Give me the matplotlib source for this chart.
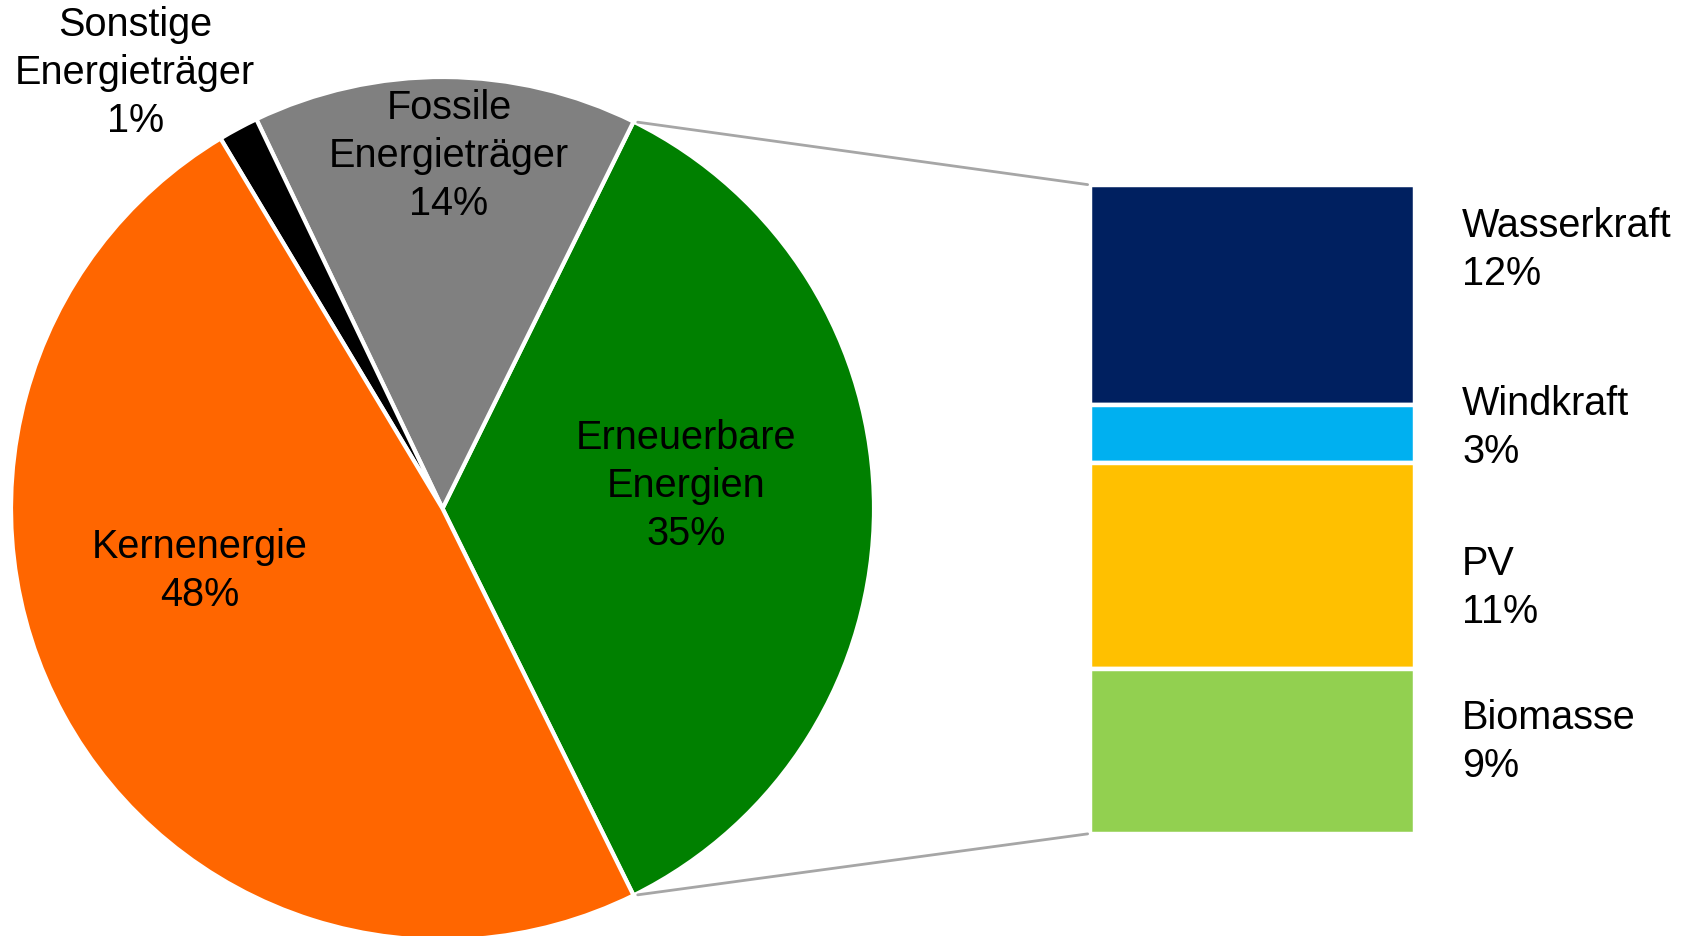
import numpy as np
import matplotlib
matplotlib.use("Agg")
import matplotlib.pyplot as plt
from matplotlib.patches import ConnectionPatch

plt.rcParams['font.family'] = ['Liberation Sans', 'DejaVu Sans']

# ---- data ----
pie_labels = ["Erneuerbare\nEnergien\n35%", "Fossile\nEnergieträger\n14%",
              "Sonstige\nEnergieträger\n1%", "Kernenergie\n48%"]
pie_values = [35.4, 14.4, 1.5, 48.7]
pie_colors = ["#008000", "#808080", "#000000", "#FF6600"]

bar_labels = ["Wasserkraft\n12%", "Windkraft\n3%", "PV\n11%", "Biomasse\n9%"]
bar_values = [12.0, 3.2, 11.2, 9.0]
bar_colors = ["#002060", "#00B0F0", "#FFC000", "#92D050"]

W, H = 1699, 937
fig = plt.figure(figsize=(W / 100, H / 100), dpi=100)

def fx(px):
    return px / W

def fy(py):
    return 1 - py / H

# ---- pie ----
cx, cy, R = 442.5, 509.5, 431.5
ax_pie = fig.add_axes([fx(cx - R), fy(cy + R), 2 * R / W, 2 * R / H])
start = -pie_values[0] * 3.6 / 2
wedges, _ = ax_pie.pie(pie_values, colors=pie_colors, startangle=start,
                       counterclock=True, radius=1,
                       wedgeprops=dict(edgecolor="white", linewidth=3))
ax_pie.set_xlim(-1, 1)
ax_pie.set_ylim(-1, 1)
ax_pie.set_aspect("equal")
ax_pie.axis("off")
for w in wedges:
    w.set_clip_on(False)

FS = 28.5
LS = 1.33
# positions: (center x, baseline of last line) in image pixels
pie_text_pos = [(686, 545), (449, 215), (135.3, 131.7), (200, 606)]
for lab, (x, y) in zip(pie_labels, pie_text_pos):
    fig.text(fx(x), fy(y), lab, ha="center", va="baseline", fontsize=FS,
             linespacing=LS, multialignment="center", color="black")

# ---- stacked bar ----
bl, br, bt, bb = 1090.4, 1415.0, 186.0, 834.5
ax_bar = fig.add_axes([fx(bl), fy(bb), (br - bl) / W, (bb - bt) / H])
total = sum(bar_values)
bottom = total
for val, col in zip(bar_values, bar_colors):
    bottom -= val
    ax_bar.bar(0, val, bottom=bottom, width=1, color=col,
               edgecolor="white", linewidth=3.2)
ax_bar.set_xlim(-0.5, 0.5)
ax_bar.set_ylim(0, total)
ax_bar.axis("off")

bar_text_pos = [(1462, 285), (1462, 463), (1462, 623), (1462, 777)]
for lab, (x, y) in zip(bar_labels, bar_text_pos):
    fig.text(fx(x), fy(y), lab, ha="left", va="baseline", fontsize=FS,
             linespacing=LS, color="black")

# ---- connector lines ----
theta1 = np.deg2rad(start + pie_values[0] * 3.6)
theta2 = np.deg2rad(start)
for th, yb in [(theta1, total), (theta2, 0)]:
    con = ConnectionPatch(xyA=(np.cos(th), np.sin(th)), coordsA=ax_pie.transData,
                          xyB=(-0.5, yb), coordsB=ax_bar.transData,
                          color="#A6A6A6", linewidth=2.0, shrinkA=3, shrinkB=2)
    fig.add_artist(con)

fig.savefig("out.png", dpi=100)
